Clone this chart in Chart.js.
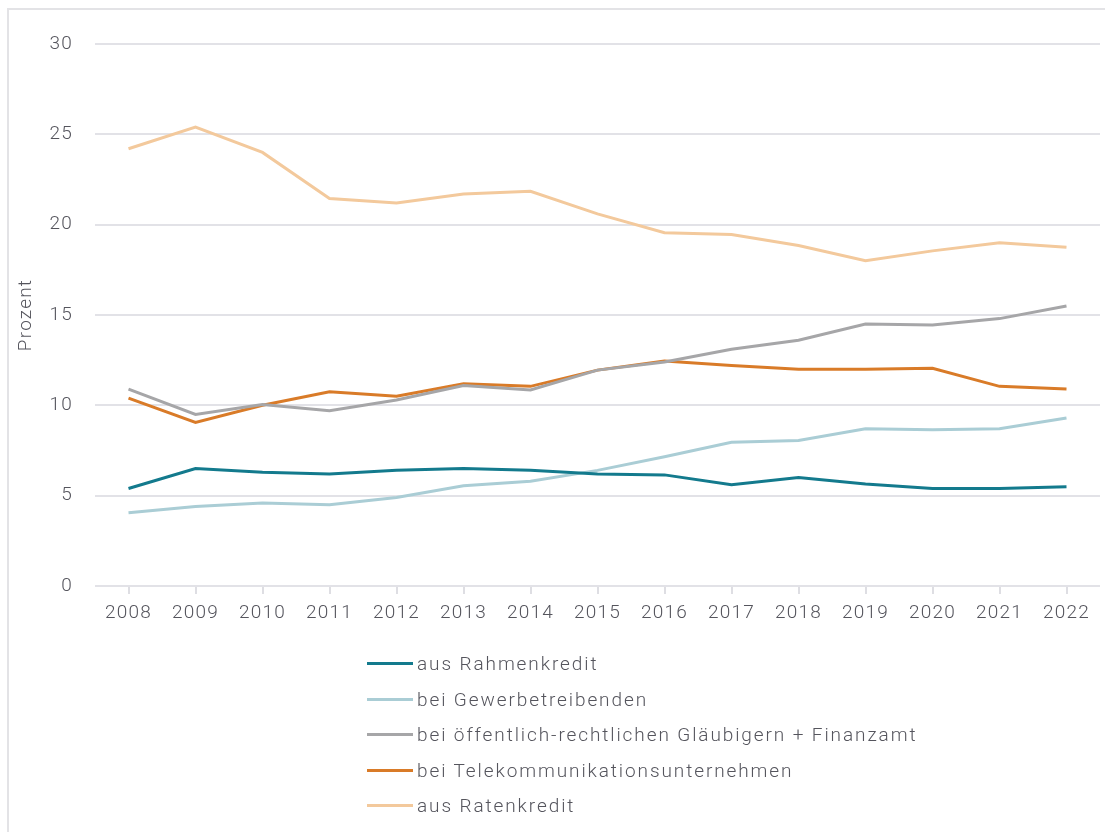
<!DOCTYPE html>
<html lang="de">
<head>
<meta charset="utf-8">
<script src="https://cdn.jsdelivr.net/npm/chart.js@4"></script>
<style>
  html, body { margin: 0; padding: 0; background: #fff; }
  #wrap { position: relative; width: 1105px; height: 832px; overflow: hidden; }
  #rahmen { position: absolute; left: 7px; top: 8px; width: 1200px; height: 900px;
            border: 2px solid #e3e3e6; box-sizing: border-box; }
  canvas { position: absolute; left: 0; top: 0; }
  #legende { position: absolute; left: 367px; top: 646px; font-family: Roboto, sans-serif;
             font-weight: 300; font-size: 19px; letter-spacing: 1.9px; color: #55555d; }
  #legende div { height: 35.5px; display: flex; align-items: center; }
  #legende span.linie { display: inline-block; width: 46px; height: 3px; margin-right: 4px; }
</style>
</head>
<body>
<div id="wrap">
  <div id="rahmen"></div>
  <canvas id="grafik" width="1105" height="832"></canvas>
  <div id="legende"></div>
</div>
<script>
// ========== DATEN ==========
const jahre = ['2008', '2009', '2010', '2011', '2012', '2013', '2014', '2015',
               '2016', '2017', '2018', '2019', '2020', '2021', '2022'];

const rahmenkredit   = [5.4, 6.5, 6.3, 6.2, 6.4, 6.5, 6.4, 6.2, 6.15, 5.6, 6.0, 5.65, 5.4, 5.4, 5.5];
const gewerbe        = [4.05, 4.4, 4.6, 4.5, 4.9, 5.55, 5.8, 6.4, 7.15, 7.95, 8.05, 8.7, 8.65, 8.7, 9.3];
const oeffentlich    = [10.9, 9.5, 10.05, 9.7, 10.3, 11.1, 10.85, 11.95, 12.4, 13.1, 13.6, 14.5, 14.45, 14.8, 15.5];
const telekom        = [10.4, 9.05, 10.0, 10.75, 10.5, 11.2, 11.05, 11.95, 12.45, 12.2, 12.0, 12.0, 12.05, 11.05, 10.9];
const ratenkredit    = [24.2, 25.4, 24.0, 21.45, 21.2, 21.7, 21.85, 20.6, 19.55, 19.45, 18.85, 18.0, 18.55, 19.0, 18.75];

const namen = [
  'aus Rahmenkredit',
  'bei Gewerbetreibenden',
  'bei öffentlich-rechtlichen Gläubigern + Finanzamt',
  'bei Telekommunikationsunternehmen',
  'aus Ratenkredit'
];
const farben = ['#137a8d', '#aacdd5', '#a6a6a8', '#d97b28', '#f3c99c'];
const reihen = [rahmenkredit, gewerbe, oeffentlich, telekom, ratenkredit];

const schrift = { family: 'Roboto, sans-serif', size: 19, weight: '300' };
const textFarbe = '#55555d';

// Buchstabenabstand fürs Canvas (die Originalschrift läuft breiter)
const abstandPlugin = {
  id: 'abstand',
  beforeUpdate(chart) { chart.ctx.letterSpacing = '1.2px'; },
  beforeDraw(chart) { chart.ctx.letterSpacing = '1.2px'; }
};

// ========== GRAFIK ==========
const grafik = new Chart(document.getElementById('grafik'), {
  type: 'line',
  data: {
    labels: jahre,
    datasets: reihen.map((werte, i) => ({
      label: namen[i],
      data: werte,
      borderColor: farben[i],
      backgroundColor: farben[i],
      borderWidth: 3,
      pointRadius: 0,
      tension: 0,
      fill: false
    }))
  },
  options: {
    responsive: false,
    animation: false,
    layout: { padding: { left: 15, right: 5, top: 44, bottom: 200 } },
    plugins: {
      legend: { display: false },
      tooltip: { enabled: false }
    },
    scales: {
      x: {
        offset: true,
        grid: { offset: false, drawOnChartArea: false, drawTicks: true, tickLength: 8,
                color: '#dedee3', lineWidth: 2 },
        border: { display: false },
        ticks: { color: textFarbe, font: schrift, padding: 8, maxRotation: 0 },
        afterFit: s => { s.height = 46; }
      },
      y: {
        min: 0,
        max: 30,
        ticks: { stepSize: 5, color: textFarbe, font: schrift, padding: 22 },
        grid: { color: '#e2e2e7', lineWidth: 2, drawTicks: false },
        border: { display: false },
        title: { display: true, text: 'Prozent', color: textFarbe, font: schrift, padding: 0 },
        afterFit: s => { s.width = 80; }
      }
    }
  },
  plugins: [abstandPlugin]
});

// ========== LEGENDE ==========
const legende = document.getElementById('legende');
grafik.data.datasets.forEach(ds => {
  const zeile = document.createElement('div');
  const linie = document.createElement('span');
  linie.className = 'linie';
  linie.style.background = ds.borderColor;
  zeile.appendChild(linie);
  zeile.appendChild(document.createTextNode(ds.label));
  legende.appendChild(zeile);
});
</script>
</body>
</html>
